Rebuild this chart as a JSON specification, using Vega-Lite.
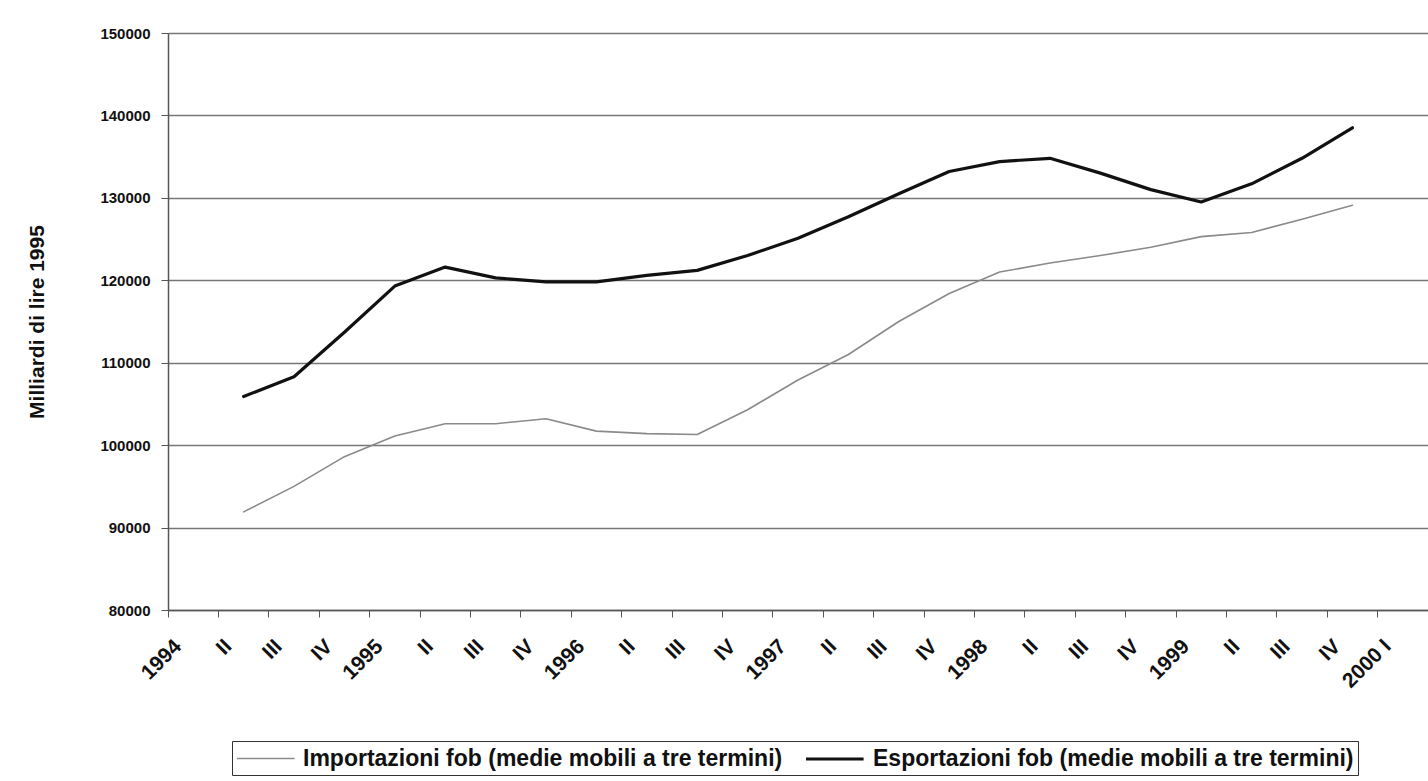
{
  "$schema": "https://vega.github.io/schema/vega-lite/v6.json",
  "width": 1260,
  "height": 577,
  "autosize": {"type": "none"},
  "padding": {"left": 168, "top": 33, "right": 0, "bottom": 171},
  "background": "white",
  "config": {
    "font": "Liberation Sans",
    "view": {"stroke": null},
    "axis": {"labelColor": "#111", "titleColor": "#111"}
  },
  "data": {
    "values": [
      {"q": "1994-II", "serie": "Importazioni fob (medie mobili a tre termini)", "valore": 91900},
      {"q": "1994-III", "serie": "Importazioni fob (medie mobili a tre termini)", "valore": 95000},
      {"q": "1994-IV", "serie": "Importazioni fob (medie mobili a tre termini)", "valore": 98600},
      {"q": "1995-I", "serie": "Importazioni fob (medie mobili a tre termini)", "valore": 101100},
      {"q": "1995-II", "serie": "Importazioni fob (medie mobili a tre termini)", "valore": 102600},
      {"q": "1995-III", "serie": "Importazioni fob (medie mobili a tre termini)", "valore": 102600},
      {"q": "1995-IV", "serie": "Importazioni fob (medie mobili a tre termini)", "valore": 103200},
      {"q": "1996-I", "serie": "Importazioni fob (medie mobili a tre termini)", "valore": 101700},
      {"q": "1996-II", "serie": "Importazioni fob (medie mobili a tre termini)", "valore": 101400},
      {"q": "1996-III", "serie": "Importazioni fob (medie mobili a tre termini)", "valore": 101300},
      {"q": "1996-IV", "serie": "Importazioni fob (medie mobili a tre termini)", "valore": 104300},
      {"q": "1997-I", "serie": "Importazioni fob (medie mobili a tre termini)", "valore": 107900},
      {"q": "1997-II", "serie": "Importazioni fob (medie mobili a tre termini)", "valore": 111000},
      {"q": "1997-III", "serie": "Importazioni fob (medie mobili a tre termini)", "valore": 115000},
      {"q": "1997-IV", "serie": "Importazioni fob (medie mobili a tre termini)", "valore": 118400},
      {"q": "1998-I", "serie": "Importazioni fob (medie mobili a tre termini)", "valore": 121000},
      {"q": "1998-II", "serie": "Importazioni fob (medie mobili a tre termini)", "valore": 122100},
      {"q": "1998-III", "serie": "Importazioni fob (medie mobili a tre termini)", "valore": 123000},
      {"q": "1998-IV", "serie": "Importazioni fob (medie mobili a tre termini)", "valore": 124000},
      {"q": "1999-I", "serie": "Importazioni fob (medie mobili a tre termini)", "valore": 125300},
      {"q": "1999-II", "serie": "Importazioni fob (medie mobili a tre termini)", "valore": 125800},
      {"q": "1999-III", "serie": "Importazioni fob (medie mobili a tre termini)", "valore": 127400},
      {"q": "1999-IV", "serie": "Importazioni fob (medie mobili a tre termini)", "valore": 129100},
      {"q": "1994-II", "serie": "Esportazioni fob (medie mobili a tre termini)", "valore": 105900},
      {"q": "1994-III", "serie": "Esportazioni fob (medie mobili a tre termini)", "valore": 108300},
      {"q": "1994-IV", "serie": "Esportazioni fob (medie mobili a tre termini)", "valore": 113700},
      {"q": "1995-I", "serie": "Esportazioni fob (medie mobili a tre termini)", "valore": 119300},
      {"q": "1995-II", "serie": "Esportazioni fob (medie mobili a tre termini)", "valore": 121600},
      {"q": "1995-III", "serie": "Esportazioni fob (medie mobili a tre termini)", "valore": 120300},
      {"q": "1995-IV", "serie": "Esportazioni fob (medie mobili a tre termini)", "valore": 119800},
      {"q": "1996-I", "serie": "Esportazioni fob (medie mobili a tre termini)", "valore": 119800},
      {"q": "1996-II", "serie": "Esportazioni fob (medie mobili a tre termini)", "valore": 120600},
      {"q": "1996-III", "serie": "Esportazioni fob (medie mobili a tre termini)", "valore": 121200},
      {"q": "1996-IV", "serie": "Esportazioni fob (medie mobili a tre termini)", "valore": 123000},
      {"q": "1997-I", "serie": "Esportazioni fob (medie mobili a tre termini)", "valore": 125100},
      {"q": "1997-II", "serie": "Esportazioni fob (medie mobili a tre termini)", "valore": 127700},
      {"q": "1997-III", "serie": "Esportazioni fob (medie mobili a tre termini)", "valore": 130500},
      {"q": "1997-IV", "serie": "Esportazioni fob (medie mobili a tre termini)", "valore": 133200},
      {"q": "1998-I", "serie": "Esportazioni fob (medie mobili a tre termini)", "valore": 134400},
      {"q": "1998-II", "serie": "Esportazioni fob (medie mobili a tre termini)", "valore": 134800},
      {"q": "1998-III", "serie": "Esportazioni fob (medie mobili a tre termini)", "valore": 133000},
      {"q": "1998-IV", "serie": "Esportazioni fob (medie mobili a tre termini)", "valore": 131000},
      {"q": "1999-I", "serie": "Esportazioni fob (medie mobili a tre termini)", "valore": 129500},
      {"q": "1999-II", "serie": "Esportazioni fob (medie mobili a tre termini)", "valore": 131700},
      {"q": "1999-III", "serie": "Esportazioni fob (medie mobili a tre termini)", "valore": 134800},
      {"q": "1999-IV", "serie": "Esportazioni fob (medie mobili a tre termini)", "valore": 138500}
    ]
  },
  "mark": {"type": "line", "interpolate": "linear", "strokeJoin": "round", "strokeCap": "round"},
  "encoding": {
    "x": {
      "field": "q",
      "type": "ordinal",
      "scale": {
        "type": "band",
        "paddingInner": 0,
        "paddingOuter": 0,
        "domain": ["1994-I","1994-II","1994-III","1994-IV","1995-I","1995-II","1995-III","1995-IV","1996-I","1996-II","1996-III","1996-IV","1997-I","1997-II","1997-III","1997-IV","1998-I","1998-II","1998-III","1998-IV","1999-I","1999-II","1999-III","1999-IV","2000-I"]
      },
      "axis": {
        "title": null,
        "bandPosition": 0,
        "labelAngle": -45,
        "labelAlign": "right",
        "labelBaseline": "middle",
        "labelFontSize": 21,
        "labelFontWeight": "bold",
        "labelPadding": 26,
        "labelOffset": -15,
        "labelOverlap": false,
        "tickSize": 7,
        "tickColor": "#555",
        "domainColor": "#555",
        "domainWidth": 1.5,
        "grid": false,
        "labelExpr": "datum.value == '2000-I' ? '2000 I' : (split(datum.value, '-')[1] == 'I' ? split(datum.value, '-')[0] : split(datum.value, '-')[1])"
      }
    },
    "y": {
      "field": "valore",
      "type": "quantitative",
      "scale": {"domain": [80000, 150000], "nice": false, "zero": false},
      "axis": {
        "title": "Milliardi di lire 1995",
        "titleFontSize": 21,
        "titleFontWeight": "bold",
        "titlePadding": 52,
        "values": [80000, 90000, 100000, 110000, 120000, 130000, 140000, 150000],
        "format": "d",
        "labelFontSize": 15,
        "labelFontWeight": "bold",
        "labelPadding": 11,
        "tickSize": 7,
        "tickColor": "#555",
        "domainColor": "#555",
        "domainWidth": 1.5,
        "grid": true,
        "gridColor": "#777",
        "gridWidth": 1.4
      }
    },
    "color": {
      "field": "serie",
      "type": "nominal",
      "sort": ["Importazioni fob (medie mobili a tre termini)", "Esportazioni fob (medie mobili a tre termini)"],
      "scale": {
        "domain": ["Importazioni fob (medie mobili a tre termini)", "Esportazioni fob (medie mobili a tre termini)"],
        "range": ["#8a8a8a", "#111111"]
      },
      "legend": {
        "title": null,
        "orient": "none",
        "legendX": 64,
        "legendY": 708,
        "direction": "horizontal",
        "symbolType": "M-1,0H3.8",
        "symbolSize": 576,
        "labelFontSize": 23,
        "labelFontWeight": "bold",
        "labelColor": "#111",
        "labelLimit": 700,
        "strokeColor": "#333",
        "padding": 4,
        "columnPadding": 16,
        "labelOffset": 41
      }
    },
    "strokeWidth": {
      "field": "serie",
      "type": "nominal",
      "sort": ["Importazioni fob (medie mobili a tre termini)", "Esportazioni fob (medie mobili a tre termini)"],
      "scale": {
        "domain": ["Importazioni fob (medie mobili a tre termini)", "Esportazioni fob (medie mobili a tre termini)"],
        "range": [1.6, 3.2]
      },
      "legend": null
    }
  }
}
